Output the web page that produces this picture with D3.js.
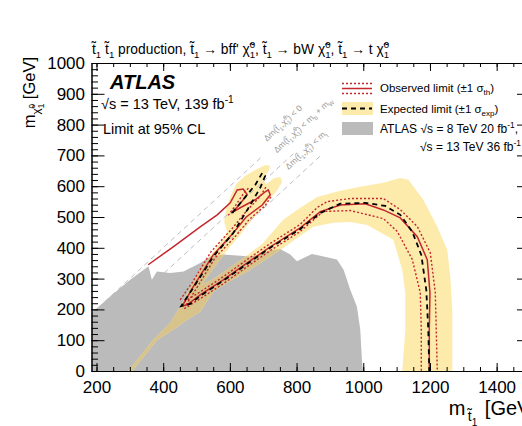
<!DOCTYPE html>
<html>
<head>
<meta charset="utf-8">
<script src="https://cdn.jsdelivr.net/npm/d3@7"></script>
<style>
  body { margin: 0; background: #fff; }
  text { font-family: "Liberation Sans", Arial, Helvetica, sans-serif; }
</style>
</head>
<body>
<div id="chart"></div>
<script>
// axis ticks
var xTicks = [200, 400, 600, 800, 1000, 1200, 1400];
var yTicks = [0, 100, 200, 300, 400, 500, 600, 700, 800, 900, 1000];

// previous ATLAS exclusion (8 TeV + 13 TeV 36 fb-1), [m_stop, m_chi]
var prevExcl = [[185,0],[185,188],[241,242],[301,296],[356,340],[366,296],[381,323],[421,318],
  [461,323],[511,351],[541,372],[581,378],[661,372],[691,378],[721,392],[751,396],[781,378],
  [801,356],[821,367],[846,380],[881,372],[921,362],[941,329],[961,264],[981,209],[991,134],
  [996,36],[999,0]];

// expected +-1 sigma band outline
var expBand = [[295,0],[370,101],[421,156],[457,221],[472,254],[487,286],[511,328],[541,374],
  [571,416],[592,452],[583,484],[589,530],[604,572],[619,607],[646,634],[676,653],[706,669],
  [721,666],[715,647],[697,621],[709,607],[733,627],[751,630],[757,614],[742,588],[721,559],
  [691,523],[661,484],[631,442],[598,400],[565,354],[535,309],[514,280],[541,293],[586,325],
  [646,371],[697,413],[760,491],[811,530],[862,565],[931,585],[991,598],[1060,611],[1111,627],
  [1135,621],[1180,556],[1222,468],[1252,393],[1261,306],[1267,198],[1267,0],[1117,0],
  [1126,133],[1126,254],[1117,328],[1090,426],[1012,474],[961,484],[910,481],[850,468],
  [751,393],[652,322],[601,293],[550,257],[511,192],[472,166],[430,134],[382,101],[307,0]];

// observed limit
var observed = [[355,345],[430,403],[511,468],[562,507],[601,546],[622,588],[640,591],[652,572],
  [625,536],[604,513],[631,530],[676,556],[706,582],[715,588],[721,572],[697,539],[649,500],
  [610,448],[550,377],[490,273],[457,211],[472,215],[511,247],[580,296],[652,351],[721,403],
  [811,465],[871,517],[931,539],[1006,543],[1060,523],[1111,497],[1162,436],[1192,361],
  [1200,254],[1198,134],[1198,0]];

// expected limit
var expected = [[607,513],[646,565],[676,604],[697,643],[706,634],[691,595],[661,539],[610,448],
  [550,371],[490,270],[454,211],[481,218],[511,244],[580,293],[652,348],[721,400],[811,461],
  [871,513],[931,543],[1006,546],[1066,536],[1111,507],[1147,452],[1174,377],[1189,263],
  [1195,134],[1198,0]];

// observed +-1 sigma theory
var obsUp = [[463,225],[511,257],[580,306],[652,362],[721,414],[811,476],[862,531],[892,550],
  [961,560],[1060,560],[1111,524],[1162,469],[1201,384],[1216,254],[1222,0]];
var obsDown = [[463,202],[511,235],[580,283],[652,339],[721,391],[811,453],[880,518],[961,521],
  [1060,495],[1102,453],[1147,362],[1171,254],[1174,134],[1174,0]];
var obsDiagA = [[451,231],[487,287],[544,388],[604,459],[643,511],[691,567],[709,599]];
var obsDiagB = [[469,215],[499,267],[556,368],[619,440],[658,492],[706,537],[724,567]];
var obsFinger = [[595,505],[619,541],[643,580],[658,596]];

// kinematic limits: m_chi = m_stop - offset
var kinOffset = [0, 85, 173];
var kinEnd = [700, 790, 870];
var kinLabelPos = [[711,744],[741,707],[776,653]];

var W = 522, H = 426;
var svg = d3.select("#chart").append("svg").attr("width", W).attr("height", H);

var x = d3.scaleLinear().domain([185, 1500]).range([91.5, 530]);
var y = d3.scaleLinear().domain([0, 1000]).range([371, 63]);
var line = d3.line().x(function(d) { return x(d[0]); }).y(function(d) { return y(d[1]); });

var defs = svg.append("defs");
defs.append("clipPath").attr("id", "plot").append("rect")
    .attr("x", x(185)).attr("y", y(1000)).attr("width", x(1500) - x(185)).attr("height", y(0) - y(1000));
defs.append("clipPath").attr("id", "grayclip").append("path").attr("d", line(prevExcl) + "Z");

var g = svg.append("g").attr("clip-path", "url(#plot)");

g.append("path").attr("d", line(prevExcl) + "Z").attr("fill", "#bbbbbb");
g.append("path").attr("d", line(expBand) + "Z").attr("fill", "#fdebab");
g.append("path").attr("d", line(expBand) + "Z").attr("fill", "#d8c48a").attr("clip-path", "url(#grayclip)");

// kinematic lines
kinOffset.forEach(function(off, i) {
  g.append("line")
      .attr("x1", x(185)).attr("y1", y(185 - off))
      .attr("x2", x(kinEnd[i])).attr("y2", y(kinEnd[i] - off))
      .attr("stroke", "#bdbdbd").attr("stroke-width", 1).attr("stroke-dasharray", "5,4");
});

// rich text helper: kinds "" normal, b sub, p sup, bb subsub, bp subsup
function rich(t, parts, fs) {
  var off = 0;
  parts.forEach(function(p) {
    var s = p[0], k = p[1], target = 0, size = fs;
    if (k === "b") { target = 0.3 * fs; size = 0.7 * fs; }
    if (k === "p") { target = -0.4 * fs; size = 0.7 * fs; }
    if (k === "bb") { target = 0.55 * fs; size = 0.5 * fs; }
    if (k === "bp") { target = 0.0 * fs; size = 0.5 * fs; }
    var ts = t.append("tspan").text(s).attr("font-size", size).attr("dy", target - off);
    if (p[2] !== undefined) ts.attr("dx", p[2] * fs);
    off = target;
  });
  return t;
}

var ang = Math.atan2(y(100) - y(0), x(100) - x(0)) * 180 / Math.PI;
var kinParts = [
  [[") < 0", ""]],
  [[") < m", ""], ["b", "b"], [" + m", ""], ["W", "b"]],
  [[") < m", ""], ["t", "b"]]
];
kinParts.forEach(function(tail, i) {
  var px = x(kinLabelPos[i][0]), py = y(kinLabelPos[i][1]);
  var t = svg.append("text").attr("x", px).attr("y", py).attr("fill", "#999")
      .attr("transform", "rotate(" + ang + "," + px + "," + py + ")");
  rich(t, [["\u0394m(t\u0303", ""], ["1", "b"], [",\u03c7\u0303", ""], ["1", "b"], ["0", "p", -0.39]].concat(tail), 8.5);
});

g.append("path").datum(obsDown).attr("d", line).attr("fill", "none")
    .attr("stroke", "#c4262e").attr("stroke-width", 1.4).attr("stroke-dasharray", "2,2");
g.append("path").datum(obsUp).attr("d", line).attr("fill", "none")
    .attr("stroke", "#c4262e").attr("stroke-width", 1.4).attr("stroke-dasharray", "2,2");
[obsDiagA, obsDiagB, obsFinger].forEach(function(d) {
  g.append("path").datum(d).attr("d", line).attr("fill", "none")
      .attr("stroke", "#c4262e").attr("stroke-width", 1.4).attr("stroke-dasharray", "2,2");
});
g.append("path").datum(observed).attr("d", line).attr("fill", "none")
    .attr("stroke", "#c4262e").attr("stroke-width", 1.5);
g.append("path").datum(expected).attr("d", line).attr("fill", "none")
    .attr("stroke", "#000").attr("stroke-width", 1.8).attr("stroke-dasharray", "5,4");

// axes
function styleAxis(a) {
  a.selectAll("path.domain").attr("stroke", "#000");
  a.selectAll("line").attr("stroke", "#000");
  a.selectAll("text").attr("font-size", 17).attr("fill", "#000")
      .attr("font-family", "Liberation Sans, Arial, sans-serif");
}
var xMinor = d3.range(200, 1501, 50);
var yMinor = d3.range(0, 1001, 20);
var fmt = d3.format("d");

styleAxis(svg.append("g").attr("transform", "translate(0," + y(0) + ")")
    .call(d3.axisBottom(x).tickValues(xMinor).tickSize(-4).tickSizeOuter(0).tickFormat("")));
styleAxis(svg.append("g").attr("transform", "translate(0," + y(0) + ")")
    .call(d3.axisBottom(x).tickValues(xTicks).tickSize(-8).tickSizeOuter(0).tickPadding(10).tickFormat(fmt)));
styleAxis(svg.append("g").attr("transform", "translate(0," + y(1000) + ")")
    .call(d3.axisTop(x).tickValues(xMinor).tickSize(-4).tickSizeOuter(0).tickFormat("")));
styleAxis(svg.append("g").attr("transform", "translate(0," + y(1000) + ")")
    .call(d3.axisTop(x).tickValues(xTicks).tickSize(-8).tickSizeOuter(0).tickFormat("")));
styleAxis(svg.append("g").attr("transform", "translate(" + x(185) + ",0)")
    .call(d3.axisLeft(y).tickValues(yMinor).tickSize(-6.5).tickSizeOuter(0).tickFormat("")));
styleAxis(svg.append("g").attr("transform", "translate(" + x(185) + ",0)")
    .call(d3.axisLeft(y).tickValues(yTicks).tickSize(-13).tickSizeOuter(0).tickPadding(6.5).tickFormat(fmt)));
styleAxis(svg.append("g").attr("transform", "translate(" + x(1500) + ",0)")
    .call(d3.axisRight(y).tickValues(yMinor).tickSize(-6.5).tickSizeOuter(0).tickFormat("")));
styleAxis(svg.append("g").attr("transform", "translate(" + x(1500) + ",0)")
    .call(d3.axisRight(y).tickValues(yTicks).tickSize(-13).tickSizeOuter(0).tickFormat("")));

// axis titles
rich(svg.append("text").attr("text-anchor", "end").attr("x", 536).attr("y", 415),
  [["m", ""], ["t\u0303", "b", 0.12], ["1", "bb"], [" [GeV]", "", 0.1]], 20);
rich(svg.append("text").attr("text-anchor", "end")
    .attr("transform", "translate(35,57) rotate(-90)"),
  [["m", ""], ["\u03c7\u0303", "b"], ["1", "bb"], ["0", "bp", -0.28], [" [GeV]", ""]], 16.5);

// title
rich(svg.append("text").attr("x", 92).attr("y", 54),
  [["t\u0303", ""], ["1", "b"], [" t\u0303", ""], ["1", "b"], [" production, t\u0303", ""], ["1", "b"],
   [" \u2192 bff' \u03c7\u0303", ""], ["1", "b"], ["0", "p", -0.39], [", t\u0303", ""], ["1", "b"],
   [" \u2192 bW \u03c7\u0303", ""], ["1", "b"], ["0", "p", -0.39], [", t\u0303", ""], ["1", "b"],
   [" \u2192 t \u03c7\u0303", ""], ["1", "b"], ["0", "p", -0.39]], 13.8);

// ATLAS labels
svg.append("text").attr("x", 110).attr("y", 89).attr("font-size", 20)
    .attr("font-weight", "bold").attr("font-style", "italic").text("ATLAS");
rich(svg.append("text").attr("x", 101).attr("y", 109),
  [["\u221As = 13 TeV, 139 fb", ""], ["-1", "p"]], 14.5);
svg.append("text").attr("x", 103).attr("y", 134).attr("font-size", 14.5).text("Limit at 95% CL");

// legend
var lg = svg.append("g");
lg.append("line").attr("x1", 342).attr("x2", 372).attr("y1", 83.5).attr("y2", 83.5)
    .attr("stroke", "#c4262e").attr("stroke-width", 1.4).attr("stroke-dasharray", "2,2");
lg.append("line").attr("x1", 342).attr("x2", 372).attr("y1", 88.5).attr("y2", 88.5)
    .attr("stroke", "#c4262e").attr("stroke-width", 1.5);
lg.append("line").attr("x1", 342).attr("x2", 372).attr("y1", 93.5).attr("y2", 93.5)
    .attr("stroke", "#c4262e").attr("stroke-width", 1.4).attr("stroke-dasharray", "2,2");
lg.append("rect").attr("x", 342).attr("y", 102).attr("width", 31).attr("height", 13).attr("fill", "#fdebab");
lg.append("line").attr("x1", 342).attr("x2", 372).attr("y1", 108.5).attr("y2", 108.5)
    .attr("stroke", "#000").attr("stroke-width", 1.8).attr("stroke-dasharray", "5,4");
lg.append("rect").attr("x", 342).attr("y", 122).attr("width", 31).attr("height", 13).attr("fill", "#bbbbbb");
rich(lg.append("text").attr("x", 380).attr("y", 92),
  [["Observed limit (\u00b11 \u03c3", ""], ["th", "b"], [")", ""]], 11.5);
rich(lg.append("text").attr("x", 380).attr("y", 113),
  [["Expected limit (\u00b11 \u03c3", ""], ["exp", "b"], [")", ""]], 11.5);
rich(lg.append("text").attr("x", 380).attr("y", 133),
  [["ATLAS \u221As = 8 TeV 20 fb", ""], ["-1", "p"], [",", ""]], 12);
rich(lg.append("text").attr("x", 420).attr("y", 151),
  [["\u221As = 13 TeV 36 fb", ""], ["-1", "p"]], 12);
</script>
</body>
</html>
